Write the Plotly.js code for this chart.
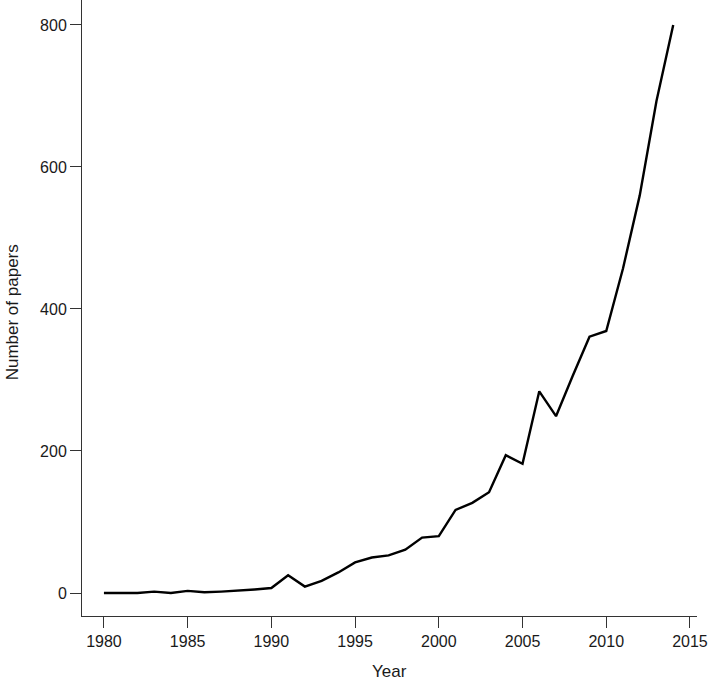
<!DOCTYPE html>
<html>
<head>
<meta charset="utf-8">
<script src="https://cdn.plot.ly/plotly-3.0.1.min.js"></script>
<style>
  html, body { margin: 0; padding: 0; background: #fff; }
  #plot { width: 709px; height: 684px; }
</style>
</head>
<body>
<div id="plot"></div>
<script>
  // papers per year
  var years = [1980, 1981, 1982, 1983, 1984, 1985, 1986, 1987, 1988, 1989,
               1990, 1991, 1992, 1993, 1994, 1995, 1996, 1997, 1998, 1999,
               2000, 2001, 2002, 2003, 2004, 2005, 2006, 2007, 2008, 2009,
               2010, 2011, 2012, 2013, 2014];
  var papers = [0, 0, 0, 2, 0, 3, 1, 2, 3, 5,
                7, 25, 9, 17, 29, 43, 50, 53, 61, 78,
                80, 117, 127, 142, 194, 182, 284, 249, 306, 361,
                369, 457, 560, 693, 800];

  var xTicks = [1980, 1985, 1990, 1995, 2000, 2005, 2010, 2015];
  var yTicks = [0, 200, 400, 600, 800];

  var font = "Liberation Sans, Arial, sans-serif";

  var trace = {
      x: years,
      y: papers,
      type: 'scatter',
      mode: 'lines',
      line: { color: '#000000', width: 2.4 },
      hoverinfo: 'skip'
  };

  var layout = {
      width: 709,
      height: 684,
      margin: { l: 82, r: 12, t: 0, b: 68 },
      paper_bgcolor: '#ffffff',
      plot_bgcolor: '#ffffff',
      showlegend: false,
      font: { family: font, size: 16, color: '#1a1a1a' },
      xaxis: {
          range: [1978.69, 2015.42],
          tickvals: xTicks,
          ticktext: xTicks.map(String),
          ticks: 'outside',
          ticklen: 11,
          tickwidth: 1,
          tickcolor: '#333',
          showline: true,
          linecolor: '#333',
          linewidth: 1,
          showgrid: false,
          zeroline: false,
          automargin: false
      },
      yaxis: {
          range: [-32.4, 835.2],
          tickvals: yTicks,
          ticktext: yTicks.map(String),
          ticks: 'outside',
          ticklen: 11,
          tickwidth: 1,
          tickcolor: '#333',
          showline: true,
          linecolor: '#333',
          linewidth: 1,
          showgrid: false,
          zeroline: false,
          automargin: false
      },
      annotations: [
          {
              text: 'Year', xref: 'paper', yref: 'paper',
              x: 0.5, y: 0, yshift: -55, showarrow: false,
              xanchor: 'center', yanchor: 'middle',
              font: { family: font, size: 17, color: '#1a1a1a' }
          },
          {
              text: 'Number of papers', xref: 'paper', yref: 'paper',
              x: 0, xshift: -70, y: 0.493, textangle: -90, showarrow: false,
              xanchor: 'center', yanchor: 'middle',
              font: { family: font, size: 17, color: '#1a1a1a' }
          }
      ]
  };

  Plotly.newPlot('plot', [trace], layout, { displayModeBar: false, staticPlot: true });
</script>
</body>
</html>
